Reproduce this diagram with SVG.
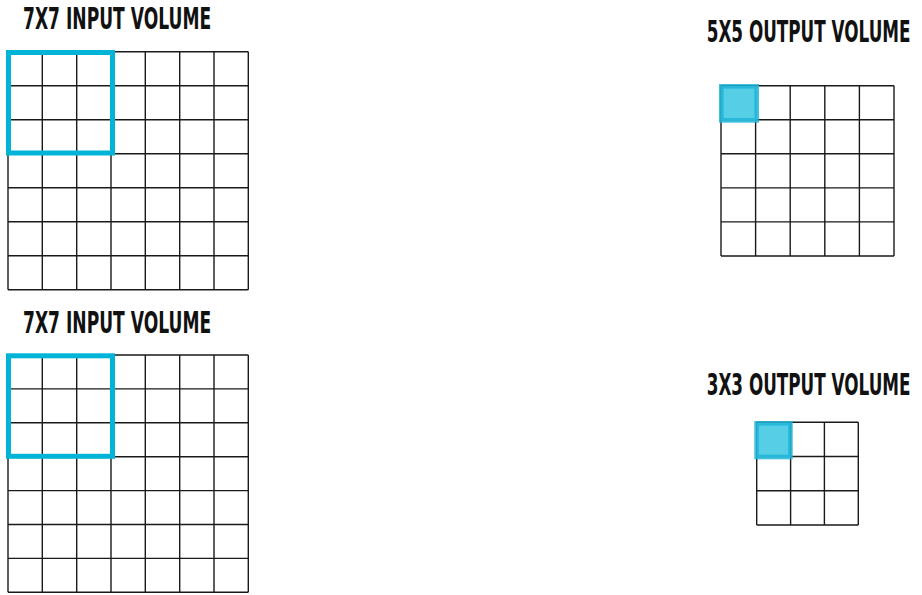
<svg xmlns="http://www.w3.org/2000/svg" width="922" height="595" viewBox="0 0 922 595">
<style>
.title{font-family:"DejaVu Sans","Liberation Sans",sans-serif;font-weight:bold;font-size:30px;fill:#111}
.grid{fill:none;stroke:#1a1a1a;stroke-width:1.4}
.win{fill:none;stroke:#00b4d8;stroke-width:5}
.cell{fill:#55cee6;stroke:#1fb5d8;stroke-width:4.6;stroke-opacity:0.85}
</style>
<rect width="922" height="595" fill="#fff"/>
<g id="input-top">
<text class="title" transform="translate(23 29.3) scale(0.56 1)" x="0" y="0" textLength="336" lengthAdjust="spacingAndGlyphs">7X7 INPUT VOLUME</text>
<path class="grid" d="M8 51.7V289.7M42.3 51.7V289.7M76.7 51.7V289.7M111 51.7V289.7M145.3 51.7V289.7M179.7 51.7V289.7M214 51.7V289.7M248.3 51.7V289.7M8 51.7H248.3M8 85.7H248.3M8 119.7H248.3M8 153.7H248.3M8 187.7H248.3M8 221.7H248.3M8 255.7H248.3M8 289.7H248.3"/>
<rect class="win" x="8.5" y="52.5" width="104" height="100.5"/>
</g>
<g id="output-top">
<text class="title" transform="translate(706.7 41.7) scale(0.56 1)" x="0" y="0" textLength="364" lengthAdjust="spacingAndGlyphs">5X5 OUTPUT VOLUME</text>
<path class="grid" d="M721 85.7V256M755.6 85.7V256M790.2 85.7V256M824.8 85.7V256M859.4 85.7V256M894 85.7V256M721 85.7H894M721 119.8H894M721 153.8H894M721 187.9H894M721 221.9H894M721 256H894"/>
<rect class="cell" x="721.3" y="86.3" width="35.4" height="34.1"/>
</g>
<g id="input-bottom">
<text class="title" transform="translate(23 333.3) scale(0.56 1)" x="0" y="0" textLength="336" lengthAdjust="spacingAndGlyphs">7X7 INPUT VOLUME</text>
<path class="grid" d="M8 355V592.3M42.3 355V592.3M76.7 355V592.3M111 355V592.3M145.3 355V592.3M179.7 355V592.3M214 355V592.3M248.3 355V592.3M8 355H248.3M8 388.9H248.3M8 422.8H248.3M8 456.7H248.3M8 490.6H248.3M8 524.5H248.3M8 558.4H248.3M8 592.3H248.3"/>
<rect class="win" x="8.5" y="355.8" width="104" height="100.5"/>
</g>
<g id="output-bottom">
<text class="title" transform="translate(706.7 395) scale(0.56 1)" x="0" y="0" textLength="364" lengthAdjust="spacingAndGlyphs">3X3 OUTPUT VOLUME</text>
<path class="grid" d="M756.7 422.3V525M790.6 422.3V525M824.4 422.3V525M858.3 422.3V525M756.7 422.3H858.3M756.7 456.5H858.3M756.7 490.8H858.3M756.7 525H858.3"/>
<rect class="cell" x="756.6" y="423.3" width="33.8" height="33.7"/>
</g>
<g id="connectors"></g>
</svg>
